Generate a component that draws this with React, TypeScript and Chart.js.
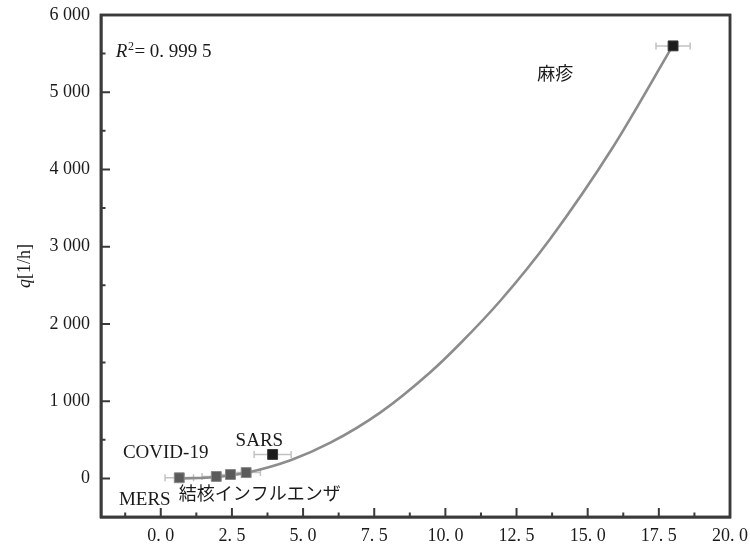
import React, { useEffect, useRef } from 'react';
import { Chart, registerables } from 'chart.js';

Chart.register(...registerables);

// Data points (R0 vs q)
const NAMES = ['MERS', '結核', 'インフルエンザ', 'COVID-19', 'SARS', '麻疹'];
const R0 = [0.65, 1.95, 2.45, 3.0, 3.93, 18.0];
const Q = [8, 25, 50, 75, 310, 5600];
const R0_ERR = [0.5, 0.5, 0.5, 0.5, 0.65, 0.6];

// Fitted curve
const FIT_X = [0.6, 2, 3, 4.56, 5.96, 7.72, 9.47, 10.53, 11.93, 13.68, 15.89, 18];
const FIT_Y = [0, 18, 72, 235, 462, 855, 1375, 1750, 2300, 3100, 4290, 5609];

// Axis ticks
const X_TICKS = [0, 2.5, 5, 7.5, 10, 12.5, 15, 17.5, 20];
const Y_TICKS = [0, 1000, 2000, 3000, 4000, 5000, 6000];
const X_MINOR = [-1.25, 1.25, 3.75, 6.25, 8.75, 11.25, 13.75, 16.25, 18.75];
const Y_MINOR = [-500, 500, 1500, 2500, 3500, 4500, 5500];

// Text annotations (anchor in data units, left-aligned)
const LABELS: { text: string; x: number; y: number; cjk?: boolean }[] = [
  { text: 'MERS', x: -1.47, y: -285 },
  { text: '結核インフルエンザ', x: 0.63, y: -194, cjk: true },
  { text: 'COVID-19', x: -1.33, y: 324 },
  { text: 'SARS', x: 2.63, y: 479 },
  { text: '麻疹', x: 13.23, y: 5246, cjk: true },
];

const SERIF = '"Liberation Serif", "DejaVu Serif", serif';
const CJK = '"Noto Sans CJK JP", "Noto Sans CJK SC", sans-serif';

const fmtX = (v: number) => v.toFixed(1).replace('.', '. ');
const fmtY = (v: number) => {
  const s = String(Math.round(v));
  return s.length > 3 ? s.slice(0, s.length - 3) + ' ' + s.slice(-3) : s;
};

function drawFrame(chart: any) {
  const { ctx, chartArea } = chart;
  const { left, right, top, bottom } = chartArea;
  ctx.save();
  ctx.strokeStyle = '#3a3a3a';
  ctx.lineWidth = 2.5;
  ctx.strokeRect(left, top, right - left, bottom - top);
  ctx.restore();
}

const framePlugin = {
  id: 'frameAndNotes',
  beforeDatasetsDraw(chart: any) {
    drawFrame(chart);
    const { ctx, scales } = chart;
    const x = scales.x;
    const y = scales.y;
    ctx.save();
    ctx.strokeStyle = '#c2c2c2';
    ctx.lineWidth = 1.5;
    R0.forEach((v, i) => {
      const py = y.getPixelForValue(Q[i]);
      const x1 = x.getPixelForValue(v - R0_ERR[i]);
      const x2 = x.getPixelForValue(v + R0_ERR[i]);
      ctx.beginPath();
      ctx.moveTo(x1, py);
      ctx.lineTo(x2, py);
      ctx.moveTo(x1, py - 3.5);
      ctx.lineTo(x1, py + 3.5);
      ctx.moveTo(x2, py - 3.5);
      ctx.lineTo(x2, py + 3.5);
      ctx.stroke();
    });
    ctx.restore();
  },
  afterDraw(chart: any) {
    drawFrame(chart);
    const { ctx, chartArea, scales } = chart;
    const x = scales.x;
    const y = scales.y;
    const { left, top, bottom } = chartArea;
    ctx.save();
    ctx.strokeStyle = '#3a3a3a';
    // ticks (inward)
    ctx.lineWidth = 2;
    ctx.beginPath();
    X_TICKS.forEach((v) => {
      const px = x.getPixelForValue(v);
      ctx.moveTo(px, bottom);
      ctx.lineTo(px, bottom - 9);
    });
    X_MINOR.forEach((v) => {
      const px = x.getPixelForValue(v);
      ctx.moveTo(px, bottom);
      ctx.lineTo(px, bottom - 4.5);
    });
    Y_TICKS.forEach((v) => {
      const py = y.getPixelForValue(v);
      ctx.moveTo(left, py);
      ctx.lineTo(left + 9, py);
    });
    Y_MINOR.forEach((v) => {
      const py = y.getPixelForValue(v);
      ctx.moveTo(left, py);
      ctx.lineTo(left + 4.5, py);
    });
    ctx.stroke();

    // annotations
    ctx.fillStyle = '#1a1a1a';
    ctx.textBaseline = 'middle';
    ctx.textAlign = 'left';
    LABELS.forEach((l) => {
      ctx.font = l.cjk ? `18px ${CJK}` : `19px ${SERIF}`;
      ctx.fillText(l.text, x.getPixelForValue(l.x), y.getPixelForValue(l.y));
    });

    // R^2 label
    let rx = x.getPixelForValue(-1.58);
    const ry = y.getPixelForValue(5518);
    ctx.font = `italic 19px ${SERIF}`;
    ctx.fillText('R', rx, ry);
    rx += ctx.measureText('R').width;
    ctx.font = `12px ${SERIF}`;
    ctx.fillText('2', rx + 0.5, ry - 5);
    rx += ctx.measureText('2').width + 1;
    ctx.font = `19px ${SERIF}`;
    ctx.fillText('= 0. 999 5', rx, ry);

    // y-axis title
    ctx.translate(25, (top + bottom) / 2);
    ctx.rotate(-Math.PI / 2);
    ctx.font = `italic 18px ${SERIF}`;
    const qW = ctx.measureText('q').width;
    ctx.font = `18px ${SERIF}`;
    const restW = ctx.measureText('[1/h]').width;
    const start = -(qW + restW) / 2;
    ctx.font = `italic 18px ${SERIF}`;
    ctx.fillText('q', start, 0);
    ctx.font = `18px ${SERIF}`;
    ctx.fillText('[1/h]', start + qW, 0);
    ctx.restore();
  },
};

export default function App() {
  const ref = useRef<HTMLCanvasElement | null>(null);
  useEffect(() => {
    if (!ref.current) return;
    const fill = R0.map((_, i) => (i >= 4 ? '#1c1c1c' : '#5a5a5a'));
    const border = R0.map((_, i) => (i >= 4 ? '#3a3a3a' : '#888888'));
    const chart = new Chart(ref.current, {
      type: 'scatter',
      data: {
        datasets: [
          {
            label: 'points',
            data: R0.map((v, i) => ({ x: v, y: Q[i] })),
            pointStyle: 'rect',
            pointRadius: 7,
            pointBackgroundColor: fill,
            pointBorderColor: border,
            pointBorderWidth: 1,
            showLine: false,
            order: 0,
          },
          {
            label: 'fit',
            data: FIT_X.map((v, i) => ({ x: v, y: FIT_Y[i] })),
            showLine: true,
            pointRadius: 0,
            borderColor: '#8c8c8c',
            borderWidth: 2.6,
            cubicInterpolationMode: 'monotone',
            fill: false,
            order: 1,
          },
        ],
      },
      options: {
        animation: false,
        responsive: true,
        maintainAspectRatio: false,
        layout: { padding: { top: 15, right: 20, bottom: 0, left: 0 } },
        plugins: {
          legend: { display: false },
          tooltip: { enabled: false },
          title: { display: false },
        },
        scales: {
          x: {
            type: 'linear',
            min: -2.1,
            max: 20,
            grid: { display: false, drawTicks: false },
            border: { display: true, color: '#3a3a3a', width: 2.5 },
            afterBuildTicks: (s: any) => {
              s.ticks = X_TICKS.map((value) => ({ value }));
            },
            afterFit: (s: any) => {
              s.height = 32;
              s.paddingLeft = 0;
              s.paddingRight = 0;
            },
            ticks: {
              padding: 8,
              maxRotation: 0,
              autoSkip: false,
              color: '#1a1a1a',
              font: { family: SERIF, size: 18 },
              callback: (v: any) => fmtX(Number(v)),
            },
          },
          y: {
            type: 'linear',
            min: -500,
            max: 6000,
            grid: { display: false, drawTicks: false },
            border: { display: true, color: '#3a3a3a', width: 2.5 },
            afterBuildTicks: (s: any) => {
              s.ticks = Y_TICKS.map((value) => ({ value }));
            },
            afterFit: (s: any) => {
              s.width = 101;
              s.paddingTop = 0;
              s.paddingBottom = 0;
            },
            ticks: {
              padding: 11,
              autoSkip: false,
              color: '#1a1a1a',
              font: { family: SERIF, size: 18 },
              callback: (v: any) => fmtY(Number(v)),
            },
          },
        },
      },
      plugins: [framePlugin],
    });
    return () => chart.destroy();
  }, []);
  return (
    <div style={{ position: 'fixed', left: 0, top: 0, width: 750, height: 549, background: '#fff' }}>
      <canvas ref={ref} />
    </div>
  );
}
